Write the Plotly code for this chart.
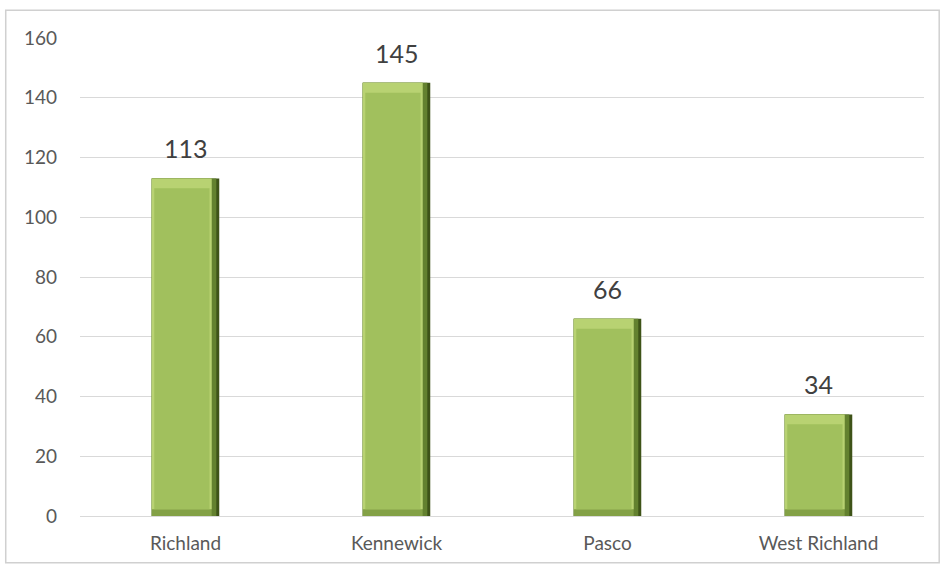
import plotly.graph_objects as go

categories = ["Richland", "Kennewick", "Pasco", "West Richland"]
values = [113, 145, 66, 34]
y_ticks = [0, 20, 40, 60, 80, 100, 120, 140, 160]

FONT = "Lato, Liberation Sans, sans-serif"
bw = 0.32
top_bevel = 3.3   # data units (~10px)
bot_bevel = 2.3
edge = 0.036      # right shaded edge width (category units)
left_edge = 0.012

base_b = [bot_bevel] * len(values)

fig = go.Figure()
# very dark outer right edge
fig.add_trace(go.Bar(x=categories, y=values, width=bw, offset=-bw/2,
                     marker=dict(color="#3e5318", line=dict(width=0)), hoverinfo="skip"))
# mid-dark right gradient
fig.add_trace(go.Bar(x=categories, y=values, width=bw - 0.014, offset=-bw/2,
                     marker=dict(color="#63812f", line=dict(width=0)), hoverinfo="skip"))
# bottom bevel
fig.add_trace(go.Bar(x=categories, y=values, width=bw - edge, offset=-bw/2,
                     marker=dict(color="#83a146", line=dict(width=0)), hoverinfo="skip"))
# light top bevel
fig.add_trace(go.Bar(x=categories, y=[v - bot_bevel for v in values], base=base_b,
                     width=bw - edge, offset=-bw/2,
                     marker=dict(color="#b8d272", line=dict(width=0)), hoverinfo="skip"))
# face
fig.add_trace(go.Bar(x=categories, y=[v - top_bevel - bot_bevel for v in values], base=base_b,
                     width=bw - edge - left_edge - 0.01, offset=-bw/2 + left_edge,
                     marker=dict(color="#a1c05d", line=dict(width=0)), hoverinfo="skip"))

for c, v in zip(categories, values):
    fig.add_annotation(x=c, y=v, text=str(v), showarrow=False, yshift=30,
                       font=dict(family=FONT, size=25, color="#404040"))

fig.add_shape(type="rect", xref="paper", yref="paper",
              x0=-0.088, x1=1.018, y0=-0.098, y1=1.058,
              line=dict(color="#d0d0d0", width=1.5), layer="below")

fig.update_layout(
    width=942, height=567,
    margin=dict(l=80, r=18, t=38, b=51),
    paper_bgcolor="white", plot_bgcolor="white",
    barmode="overlay", showlegend=False,
    font=dict(family=FONT, size=19, color="#595959"),
    xaxis=dict(showgrid=False, showline=True, linecolor="#d9d9d9", linewidth=1,
               ticks="", ticklabelstandoff=10,
               tickfont=dict(family=FONT, size=19, color="#595959")),
    yaxis=dict(range=[0, 160], tickvals=y_ticks, showgrid=True, gridcolor="#d9d9d9",
               gridwidth=1, zeroline=False, showline=False, ticks="",
               ticklabelstandoff=22,
               tickfont=dict(family=FONT, size=19, color="#595959")),
)

fig.write_html("out.html")
